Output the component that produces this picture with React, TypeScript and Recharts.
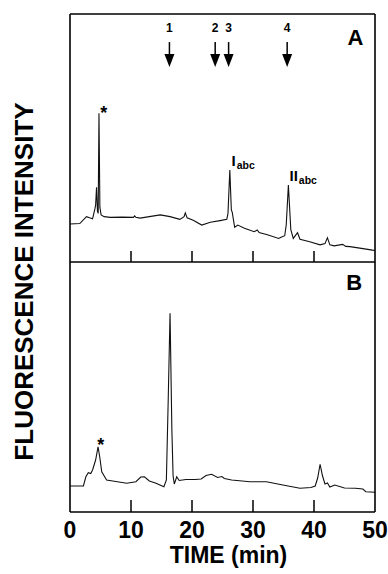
import React from 'react';
import { LineChart, Line, XAxis, YAxis, ReferenceDot } from 'recharts';

// ---- data ----
const timeTicks = [0, 10, 20, 30, 40, 50];
const innerTicks = [10, 20, 30, 40];

const timeA = [0, 1.6, 2.7, 3.2, 3.7, 4.1, 4.2, 4.35, 4.5, 4.62, 4.75, 4.9, 5.1, 5.6, 6.6, 8.5, 10.4, 10.6, 10.8, 11.5, 13.0, 14.8, 16.4, 18.0, 18.7, 18.9, 19.2, 20.2, 21.6, 23.0, 24.6, 25.7, 25.9, 26.2, 26.45, 26.6, 26.8, 27.0, 27.5, 28.6, 30.2, 30.7, 31.0, 32.5, 34.2, 34.6, 35.2, 35.45, 35.8, 36.2, 36.6, 37.3, 37.7, 39.3, 41.0, 41.8, 42.2, 42.6, 43.3, 44.7, 45.2, 45.9, 47.5, 49.6, 50];
const valA = [15.3, 15.5, 18.3, 17.8, 17.4, 21.6, 23.0, 30.1, 20.5, 19.6, 60.0, 22.0, 19.0, 18.3, 18.0, 18.1, 18.0, 18.6, 18.0, 17.7, 18.3, 19.0, 18.3, 17.2, 18.3, 19.8, 17.8, 16.8, 14.9, 16.0, 16.7, 17.2, 19.6, 37.1, 21.0, 20.0, 16.9, 14.0, 14.9, 13.6, 12.2, 12.9, 11.9, 10.9, 9.5, 10.0, 10.6, 15.0, 31.0, 13.0, 9.5, 11.8, 9.2, 8.2, 6.9, 7.4, 9.8, 6.9, 6.5, 7.1, 6.3, 6.2, 5.6, 4.8, 4.7];

const timeB = [0, 2.2, 2.6, 3.0, 3.4, 3.7, 4.2, 4.6, 4.9, 5.2, 6.0, 7.0, 9.3, 10.8, 11.6, 12.2, 13.0, 14.0, 15.4, 15.8, 16.1, 16.4, 16.7, 16.9, 17.1, 17.5, 17.9, 19.0, 20.5, 21.5, 22.3, 23.2, 24.2, 24.9, 25.3, 26.5, 29.5, 32.2, 34.9, 37.7, 39.5, 40.2, 40.6, 41.0, 41.4, 41.8, 42.2, 42.6, 43.4, 45.0, 46.8, 48.0, 48.5, 50];
const valB = [10.4, 10.4, 14.1, 15.7, 15.4, 16.8, 20.8, 26.1, 21.6, 16.1, 12.8, 12.4, 11.5, 12.1, 14.0, 14.1, 12.4, 11.6, 10.1, 12.8, 44.8, 79.5, 32.8, 14.4, 11.2, 14.1, 12.6, 13.0, 13.0, 13.2, 14.6, 15.1, 13.8, 14.2, 13.4, 12.8, 12.1, 12.1, 10.8, 9.5, 9.8, 10.4, 13.6, 19.1, 14.4, 11.2, 11.6, 10.0, 10.8, 9.6, 9.5, 9.2, 8.1, 7.9];

const arrowTimes = [16.3, 23.8, 26.0, 35.6];
const arrowLabels = ['1', '2', '3', '4'];
const arrowLevel = 78.6;

const dataA = timeA.map((t, i) => ({ t, v: valA[i] }));
const dataB = timeB.map((t, i) => ({ t, v: valB[i] }));

const FONT = '"Liberation Sans", Arial, Helvetica, sans-serif';
const INK = '#000';
const BORDER = { stroke: INK, strokeWidth: 1.6 };

const InnerTick = (props: any) => {
  const { x, y } = props;
  return <line x1={x} x2={x} y1={y} y2={y - 11} stroke={INK} strokeWidth={1.5} />;
};

const BottomTick = (props: any) => {
  const { x, y, payload } = props;
  const v = payload.value;
  return (
    <g>
      {v > 0 && v < 50 && <line x1={x} x2={x} y1={y} y2={y - 12} stroke={INK} strokeWidth={1.5} />}
      <text x={x} y={y + 25.5} textAnchor="middle" fontSize={23} fontWeight="bold" fontFamily={FONT} fill={INK}>
        {v}
      </text>
    </g>
  );
};

const arrowShape = (label: string) => (p: any) => {
  const { cx, cy } = p;
  return (
    <g>
      <text x={cx} y={cy - 35.5} textAnchor="middle" fontSize={12} fontWeight="bold" fontFamily={FONT} fill={INK}>
        {label}
      </text>
      <line x1={cx} x2={cx} y1={cy - 25} y2={cy - 12} stroke={INK} strokeWidth={1.5} />
      <path d={`M${cx - 5},${cy - 13} L${cx + 5},${cy - 13} L${cx},${cy} Z`} fill={INK} />
    </g>
  );
};

const textShape = (label: string, size: number, anchor: string = 'middle') => (p: any) => (
  <text x={p.cx} y={p.cy} textAnchor={anchor} fontSize={size} fontWeight="bold" fontFamily={FONT} fill={INK}>
    {label}
  </text>
);

const subShape = (main: string, sub: string) => (p: any) => (
  <text x={p.cx} y={p.cy} textAnchor="start" fontWeight="bold" fontFamily={FONT} fill={INK}>
    <tspan fontSize={15}>{main}</tspan>
    <tspan fontSize={10.5} dx={1} dy={3.3}>{sub}</tspan>
  </text>
);

export default function App() {
  return (
    <div style={{ position: 'absolute', left: 0, top: 0, width: 388, height: 574, background: '#fff' }}>
      <div style={{ position: 'absolute', left: 0, top: 0 }}>
        <LineChart width={388} height={270} data={dataA} margin={{ top: 13, right: 12, bottom: 7, left: 69 }}>
          <XAxis dataKey="t" type="number" domain={[0, 50]} ticks={innerTicks} interval={0} height={1}
            tickSize={0} tickMargin={0} tickLine={false} tick={<InnerTick />} axisLine={BORDER} />
          <XAxis xAxisId="top" orientation="top" dataKey="t" type="number" domain={[0, 50]} height={1}
            tick={false} tickLine={false} axisLine={BORDER} />
          <YAxis type="number" domain={[0, 100]} width={1} tick={false} tickLine={false} axisLine={BORDER} />
          <YAxis yAxisId="right" orientation="right" type="number" domain={[0, 100]} width={1} tick={false}
            tickLine={false} axisLine={BORDER} />
          <Line dataKey="v" type="linear" stroke="#111" strokeWidth={1.1} dot={false} isAnimationActive={false} />
          {arrowTimes.map((t, i) => (
            <ReferenceDot key={i} x={t} y={arrowLevel} r={0} ifOverflow="visible" shape={arrowShape(arrowLabels[i])} />
          ))}
          <ReferenceDot x={46.8} y={87.5} r={0} ifOverflow="visible" shape={textShape('A', 22)} />
          <ReferenceDot x={5.55} y={57.7} r={0} ifOverflow="visible" shape={textShape('*', 18)} />
          <ReferenceDot x={26.48} y={38.7} r={0} ifOverflow="visible" shape={subShape('I', 'abc')} />
          <ReferenceDot x={35.98} y={32.7} r={0} ifOverflow="visible" shape={subShape('II', 'abc')} />
        </LineChart>
      </div>
      <div style={{ position: 'absolute', left: 0, top: 250 }}>
        <LineChart width={388} height={324} data={dataB} margin={{ top: 12, right: 12, bottom: 61, left: 69 }}>
          <XAxis dataKey="t" type="number" domain={[0, 50]} ticks={timeTicks} interval={0} height={1}
            tickSize={0} tickMargin={0} tickLine={false} tick={<BottomTick />} axisLine={BORDER}
            label={{
              content: (p: any) => {
                const vb = p.viewBox || {};
                return (
                  <text x={(vb.x ?? 70) + (vb.width ?? 305) / 2 + 6} y={(vb.y ?? 512) + 51} textAnchor="middle"
                    fontSize={23} fontWeight="bold" fontFamily={FONT} fill={INK}>
                    TIME (min)
                  </text>
                );
              },
            }} />
          <YAxis type="number" domain={[0, 100]} width={1} tick={false} tickLine={false} axisLine={BORDER} />
          <YAxis yAxisId="right" orientation="right" type="number" domain={[0, 100]} width={1} tick={false}
            tickLine={false} axisLine={BORDER} />
          <Line dataKey="v" type="linear" stroke="#111" strokeWidth={1.1} dot={false} isAnimationActive={false} />
          <ReferenceDot x={46.6} y={88.8} r={0} ifOverflow="visible" shape={textShape('B', 22)} />
          <ReferenceDot x={5.05} y={24.4} r={0} ifOverflow="visible" shape={textShape('*', 18)} />
        </LineChart>
      </div>
      <svg width={388} height={574} style={{ position: 'absolute', left: 0, top: 0, pointerEvents: 'none' }}>
        <text transform="translate(33,281.5) rotate(-90)" textAnchor="middle" fontSize={26} fontWeight="bold"
          fontFamily={FONT} fill={INK}>
          FLUORESCENCE INTENSITY
        </text>
      </svg>
    </div>
  );
}
